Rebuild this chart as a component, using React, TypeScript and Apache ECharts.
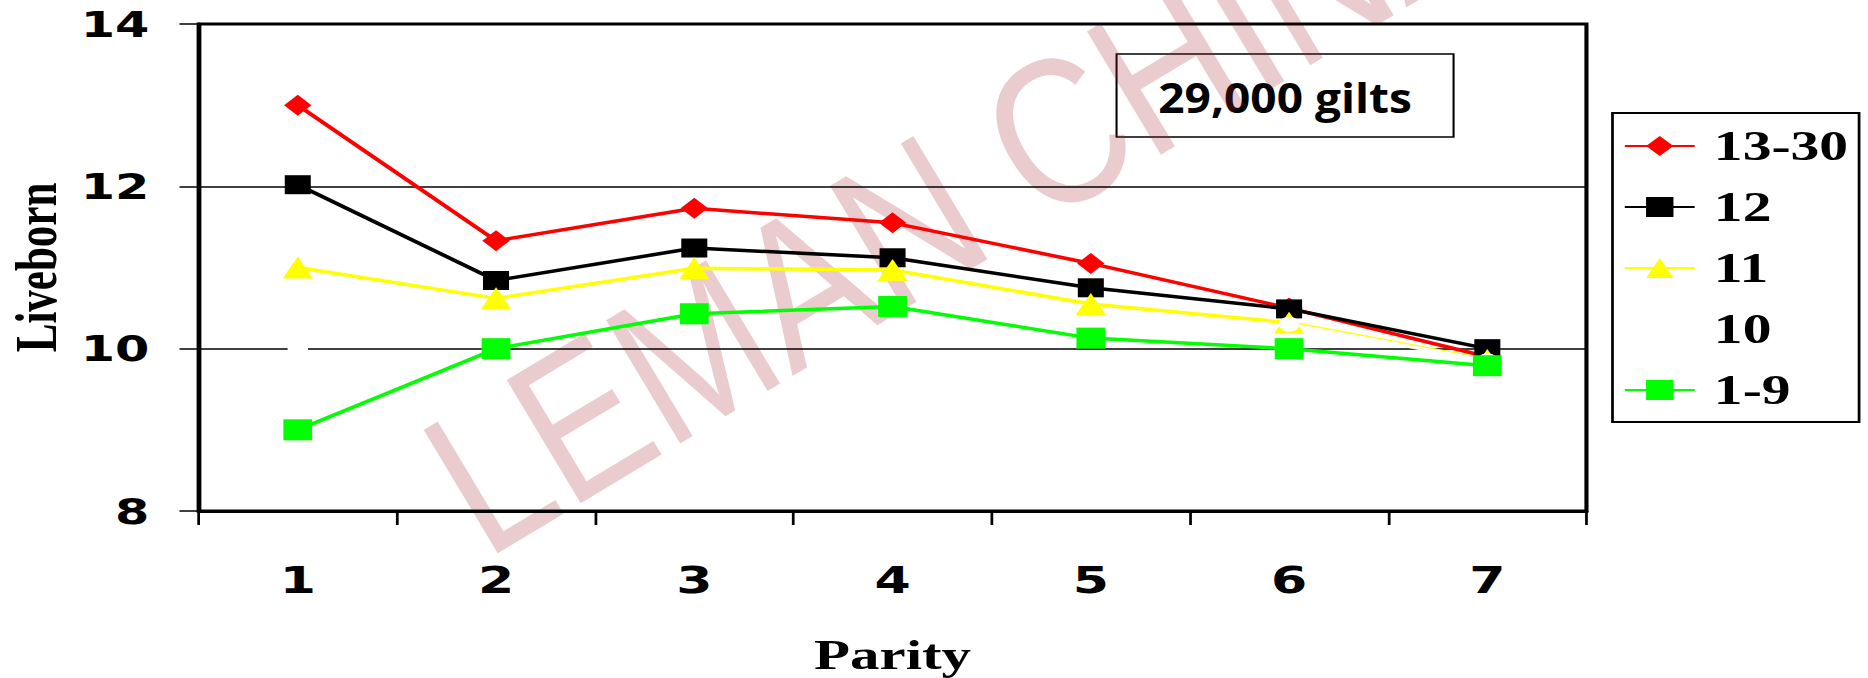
import React, { useEffect, useRef } from "react";
import * as echarts from "echarts";

// ---- data ----
const parity = ["1", "2", "3", "4", "5", "6", "7"];
const yTicks = [8, 10, 12, 14];
const seriesNames = ["13-30", "12", "11", "10", "1-9"];
const s1330 = [13.0, 11.33, 11.73, 11.55, 11.05, 10.5, 9.9];
const s12 = [12.02, 10.84, 11.24, 11.12, 10.75, 10.49, 10.0];
const s11 = [11.0, 10.62, 10.99, 10.97, 10.55, 10.32, 9.86];
const s10 = [10.0, null, null, null, null, 10.3, 9.85];
const s19 = [9.0, 10.0, 10.43, 10.52, 10.13, 10.0, 9.79];
const noteText = "29,000 gilts";
const watermarkText = "LEMAN CHINA";

// horizontal stretch of the whole figure
const S = 1.37;
const FULL_W = 1868;
const FULL_H = 678;
const W = Math.round(FULL_W / S);

export default function App() {
  const ref = useRef<HTMLDivElement>(null);
  useEffect(() => {
    if (!ref.current) return;
    const chart = echarts.init(ref.current, null, { renderer: "svg" });
    const lineBase = (name: string, data: any[], color: string, symbol: string, size: any) => ({
      name,
      type: "line",
      data,
      symbol,
      symbolSize: size,
      showSymbol: true,
      connectNulls: false,
      lineStyle: { color, width: 3.5 },
      itemStyle: { color, borderWidth: 0 },
      emphasis: { disabled: true },
    });
    const option: any = {
      animation: false,
      backgroundColor: "#ffffff",
      grid: {
        left: 145,
        right: W - 1158,
        top: 24,
        bottom: FULL_H - 511,
        show: true,
        borderColor: "#000",
        borderWidth: 3,
        containLabel: false,
        outerBoundsMode: "none",
      },
      legend: {
        orient: "vertical",
        left: 1177,
        top: 113,
        data: seriesNames,
        backgroundColor: "#fff",
        borderColor: "#000",
        borderWidth: 2,
        borderRadius: 0,
        padding: [12, 8, 11, 8],
        itemWidth: 51,
        itemHeight: 25,
        itemGap: 19,
        textStyle: {
          fontFamily: "Liberation Serif",
          fontWeight: "bold",
          fontSize: 42,
          color: "#000",
          lineHeight: 40,
          padding: [0, 0, 0, 9],
        },
      },
      xAxis: {
        type: "category",
        data: parity,
        boundaryGap: true,
        name: "Parity",
        nameLocation: "middle",
        nameGap: 122,
        nameTextStyle: {
          fontFamily: "Liberation Serif",
          fontWeight: "bold",
          fontSize: 43,
          color: "#000",
        },
        axisLine: { show: true, lineStyle: { color: "#000", width: 3 } },
        axisTick: { show: true, inside: false, length: 14, alignWithLabel: false, lineStyle: { color: "#000", width: 2 } },
        axisLabel: {
          margin: 50,
          fontFamily: "DejaVu Sans",
          fontWeight: "bold",
          fontSize: 38,
          color: "#000",
        },
        splitLine: { show: false },
      },
      yAxis: {
        type: "value",
        min: yTicks[0],
        max: yTicks[yTicks.length - 1],
        interval: 2,
        name: "Liveborn",
        nameLocation: "middle",
        nameRotate: 90,
        nameGap: 97,
        nameTextStyle: {
          fontFamily: "Liberation Serif",
          fontWeight: "bold",
          fontSize: 43,
          color: "#000",
        },
        axisLine: { show: true, lineStyle: { color: "#000", width: 3 } },
        axisTick: { show: true, inside: false, length: 14, lineStyle: { color: "#000", width: 1.5 } },
        axisLabel: {
          margin: 36,
          fontFamily: "DejaVu Sans",
          fontWeight: "bold",
          fontSize: 36,
          color: "#000",
        },
        splitLine: { show: true, lineStyle: { color: "#000", width: 1.5 } },
      },
      series: [
        lineBase(seriesNames[0], s1330, "#ff0000", "diamond", [20, 21]),
        lineBase(seriesNames[1], s12, "#000000", "rect", 19),
        lineBase(seriesNames[2], s11, "#ffff00", "triangle", 22),
        lineBase(seriesNames[3], s10, "#ffffff", "circle", 15),
        lineBase(seriesNames[4], s19, "#00ff00", "rect", 21),
      ],
      graphic: [
        {
          type: "group",
          z: 50,
          children: [
            {
              type: "rect",
              shape: { x: 815, y: 54, width: 246, height: 83 },
              style: { fill: "#fff", stroke: "#000", lineWidth: 1.5 },
            },
            {
              type: "group",
              x: 938,
              y: 97,
              scaleX: 0.8,
              children: [
                {
                  type: "text",
                  x: 0,
                  y: 0,
                  style: {
                    text: noteText,
                    fontFamily: "Open Sans",
                    fontWeight: "bold",
                    fontSize: 42,
                    fill: "#000",
                    textAlign: "center",
                    textVerticalAlign: "middle",
                  },
                },
              ],
            },
          ],
        },
        {
          type: "group",
          x: 0,
          y: 0,
          scaleX: 1 / S,
          z: 100,
          silent: true,
          children: [
            {
              type: "text",
              x: 502,
              y: 588,
              rotation: (31 * Math.PI) / 180,
              scaleY: 1.2,
              style: {
                text: watermarkText,
                fontFamily: "Liberation Sans",
                fontWeight: "normal",
                fontSize: 174,
                fill: "rgba(170,40,52,0.24)",
                textAlign: "left",
                textVerticalAlign: "bottom",
              },
            },
          ],
        },
      ],
    };
    chart.setOption(option);
    return () => chart.dispose();
  }, []);
  return (
    <div
      style={{
        position: "absolute",
        left: 0,
        top: 0,
        width: FULL_W,
        height: FULL_H,
        overflow: "hidden",
        background: "#fff",
      }}
    >
      <div
        ref={ref}
        style={{
          width: W,
          height: FULL_H,
          transform: `scaleX(${S})`,
          transformOrigin: "0 0",
        }}
      />
    </div>
  );
}
